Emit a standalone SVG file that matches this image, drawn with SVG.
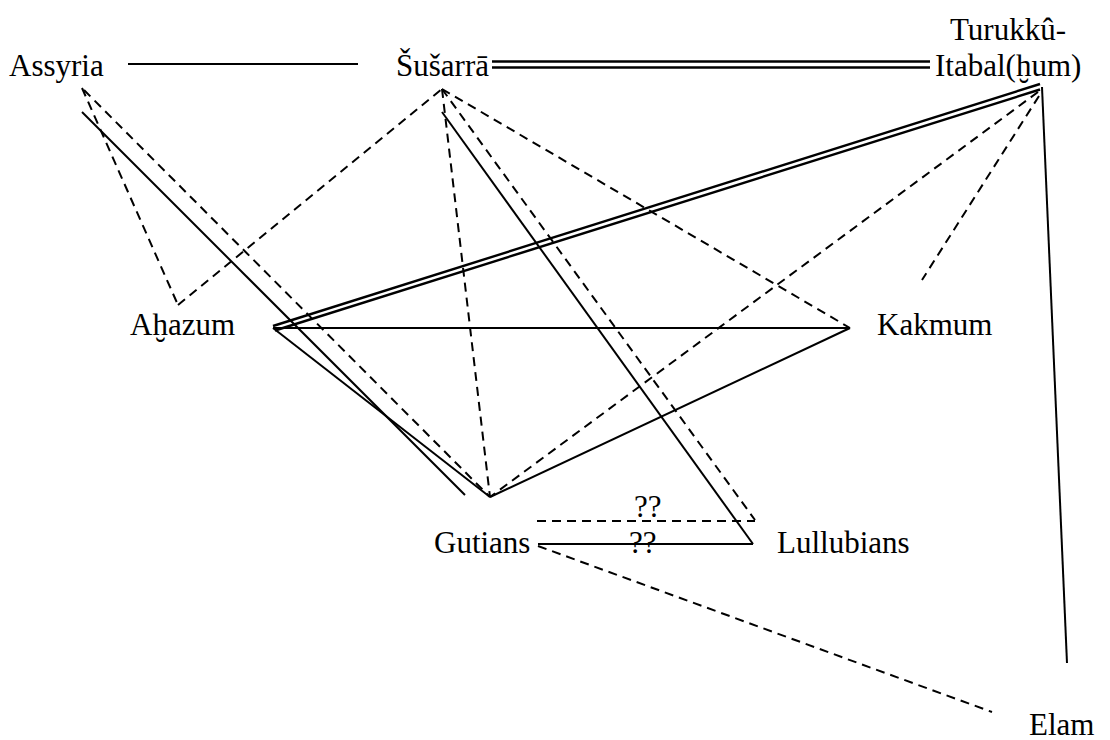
<svg xmlns="http://www.w3.org/2000/svg" width="1110" height="740" viewBox="0 0 1110 740">
<style>
text{font-family:"Liberation Serif","DejaVu Serif",serif;font-size:31px;fill:#000}
.s{stroke:#000;stroke-width:2;fill:none}
.w{stroke:#000;stroke-width:2.4;fill:none}
.d{stroke:#000;stroke-width:2;fill:none;stroke-dasharray:9 6}
</style>
<rect width="1110" height="740" fill="#fff"/>
<g id="connectors">
<line class="s" x1="128" y1="64" x2="358" y2="64"/>
<line class="s" x1="82" y1="112" x2="465" y2="495"/>
<line class="s" x1="442" y1="112" x2="753" y2="544"/>
<line class="s" x1="273" y1="328" x2="850" y2="328"/>
<line class="s" x1="273" y1="328" x2="490" y2="497"/>
<line class="s" x1="490" y1="497" x2="850" y2="328"/>
<line class="s" x1="538" y1="544" x2="753" y2="544"/>
<line class="s" x1="1042" y1="87" x2="1067" y2="663"/>
<line class="w" x1="492" y1="61.5" x2="930" y2="61.5"/>
<line class="w" x1="492" y1="67.5" x2="930" y2="67.5"/>
<line class="w" x1="273" y1="326" x2="1040" y2="84"/>
<line class="w" x1="275" y1="330.5" x2="1040" y2="89.5"/>
<line class="d" x1="82" y1="88" x2="178" y2="305"/>
<line class="d" x1="178" y1="305" x2="442" y2="89"/>
<line class="d" x1="84" y1="90" x2="490" y2="497"/>
<line class="d" x1="442" y1="89" x2="490" y2="497"/>
<line class="d" x1="442" y1="89" x2="755" y2="520"/>
<line class="d" x1="442" y1="89" x2="850" y2="328"/>
<line class="d" x1="1038" y1="92" x2="490" y2="497"/>
<line class="d" x1="1039" y1="96" x2="922" y2="280"/>
<line class="d" x1="537" y1="521" x2="755" y2="521"/>
<line class="d" x1="538" y1="546" x2="992" y2="712"/>
<text x="634" y="517">??</text>
<text x="629" y="553">??</text>
</g>
<g id="assyria"><text x="9" y="76">Assyria</text></g>
<g id="susarra"><text x="396" y="76">Šušarrā</text></g>
<g id="turukku"><text x="950" y="40">Turukkû-</text><text x="935" y="76">Itabal(ḫum)</text></g>
<g id="ahazum"><text x="130" y="335">Aḫazum</text></g>
<g id="kakmum"><text x="877" y="335">Kakmum</text></g>
<g id="gutians"><text x="434" y="553">Gutians</text></g>
<g id="lullubians"><text x="777" y="553">Lullubians</text></g>
<g id="elam"><text x="1029" y="735">Elam</text></g>
</svg>
